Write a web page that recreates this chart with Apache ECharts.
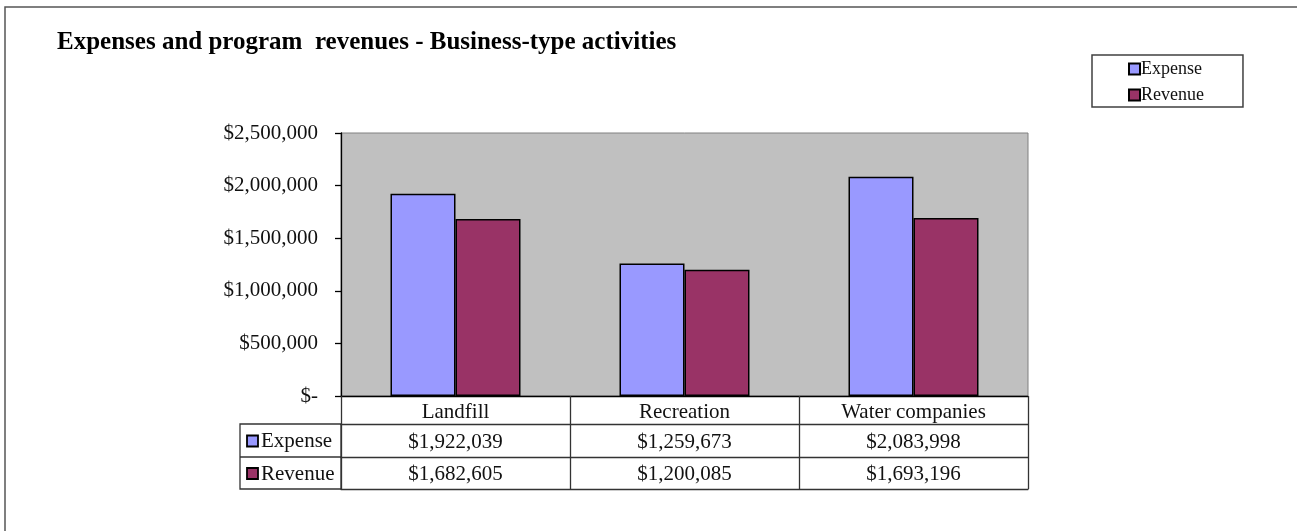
<!DOCTYPE html>
<html>
<head>
<meta charset="utf-8">
<script src="https://cdn.jsdelivr.net/npm/echarts@6/dist/echarts.min.js"></script>
<style>
  html, body { margin: 0; padding: 0; background: #fff; }
  #chart { width: 1297px; height: 531px; }
</style>
</head>
<body>
<div id="chart"></div>
<script>
// data
const categories = ['Landfill', 'Recreation', 'Water companies']
const seriesNames = ['Expense', 'Revenue']
const expense = [1922039, 1259673, 2083998]
const revenue = [1682605, 1200085, 1693196]
const yTicks = [0, 500000, 1000000, 1500000, 2000000, 2500000]
const colors = ['#9999FF', '#993366']
const titleText = 'Expenses and program  revenues - Business-type activities'

const serif = '"Liberation Serif", "DejaVu Serif", serif'

function money(v) {
  if (v === 0) return '$-'
  return '$' + v.toLocaleString('en-US')
}

const chart = echarts.init(document.getElementById('chart'), null, { renderer: 'canvas' })

// grid box (plot area)
const G = { left: 341, top: 133, width: 687, height: 263 }
const rowY = [G.top + G.height, 424, 457, 489] // table row lines

function rowAxis(offset, values, margin) {
  return {
    type: 'category',
    data: categories,
    position: 'bottom',
    offset: offset,
    axisLine: { show: true, lineStyle: { color: '#333', width: 1.3 } },
    axisTick: { show: false },
    axisLabel: {
      show: !!values,
      margin: margin,
      fontFamily: serif,
      fontSize: 21,
      lineHeight: 21,
      color: '#111',
      formatter: (v, i) => values ? money(values[i]) : '',
    },
  }
}

let option = {
  backgroundColor: '#fff',
  animation: false,
  title: {
    text: titleText,
    left: 52,
    top: 25,
    textStyle: { fontFamily: serif, fontWeight: 'bold', fontSize: 25, color: '#000' },
  },
  legend: {
    orient: 'vertical',
    left: 1092,
    top: 55,
    padding: [5, 39, 3, 36],
    itemGap: 8,
    itemWidth: 11,
    itemHeight: 11,
    icon: 'rect',
    borderColor: '#404040',
    borderWidth: 1.5,
    textStyle: { fontFamily: serif, fontSize: 18, color: '#111', padding: [0, 0, 0, -4] },
    data: seriesNames,
  },
  grid: {
    left: G.left,
    top: G.top,
    width: G.width,
    height: G.height,
    show: true,
    backgroundColor: '#C0C0C0',
    borderColor: '#808080',
    borderWidth: 1,
  },
  xAxis: [
    {
      type: 'category',
      data: categories,
      position: 'bottom',
      axisLine: { show: true, lineStyle: { color: '#000', width: 1.3 } },
      axisTick: { show: true, interval: 0, length: rowY[3] - rowY[0], lineStyle: { color: '#333', width: 1.3 } },
      axisLabel: { margin: 6, fontFamily: serif, fontSize: 21, lineHeight: 21, color: '#111' },
    },
    rowAxis(rowY[1] - rowY[0], expense, 8),
    rowAxis(rowY[2] - rowY[0], revenue, 7),
    rowAxis(rowY[3] - rowY[0], null, 0),
  ],
  yAxis: {
    type: 'value',
    min: yTicks[0],
    max: yTicks[yTicks.length - 1],
    interval: yTicks[1] - yTicks[0],
    axisLine: { show: true, lineStyle: { color: '#000', width: 1.3 } },
    axisTick: { show: true, length: 6, lineStyle: { color: '#000', width: 1.3 } },
    splitLine: { show: false },
    axisLabel: { margin: 23, fontFamily: serif, fontSize: 21, color: '#111', formatter: money },
  },
  series: [
    {
      name: seriesNames[0],
      type: 'bar',
      data: expense,
      barWidth: 65,
      barGap: '0%',
      itemStyle: { color: colors[0], borderColor: '#000', borderWidth: 1.5 },
    },
    {
      name: seriesNames[1],
      type: 'bar',
      data: revenue,
      barWidth: 65,
      barGap: '0%',
      itemStyle: { color: colors[1], borderColor: '#000', borderWidth: 1.5 },
    },
  ],
}

// left legend column of the data table
let tableLeft = 240
let els = []
els.push({
  type: 'rect',
  shape: { x: tableLeft, y: rowY[1], width: G.left - tableLeft, height: rowY[3] - rowY[1] },
  style: { fill: 'none', stroke: '#333', lineWidth: 1.3 },
})
els.push({
  type: 'line',
  shape: { x1: tableLeft, y1: rowY[2], x2: G.left, y2: rowY[2] },
  style: { stroke: '#333', lineWidth: 1.3 },
})
seriesNames.forEach((name, i) => {
  let mid = (rowY[i + 1] + rowY[i + 2]) / 2
  els.push({
    type: 'rect',
    shape: { x: tableLeft + 7, y: mid - 5, width: 11, height: 11 },
    style: { fill: colors[i], stroke: '#000', lineWidth: 1.8 },
  })
  els.push({
    type: 'text',
    x: tableLeft + 21,
    y: mid + 1,
    style: { text: name, fontFamily: serif, fontSize: 21, fill: '#111', verticalAlign: 'middle' },
  })
})
// outer chart border
els.push({
  type: 'rect',
  shape: { x: 5, y: 7, width: 1400, height: 600 },
  style: { fill: 'none', stroke: '#555', lineWidth: 1.5 },
})
option.graphic = els

chart.setOption(option)
</script>
</body>
</html>
